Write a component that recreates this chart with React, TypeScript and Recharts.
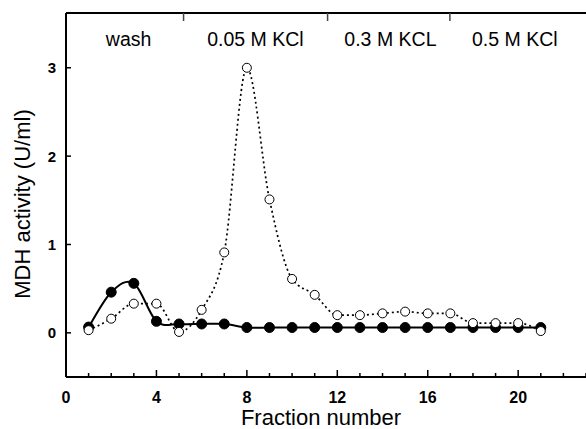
import { LineChart, Line, XAxis, YAxis, Label } from 'recharts';

// fraction numbers along the column run
const fractions = [1, 2, 3, 4, 5, 6, 7, 8, 9, 10, 11, 12, 13, 14, 15, 16, 17, 18, 19, 20, 21];

// open circles, dotted line
const openActivity = [0.03, 0.16, 0.33, 0.33, 0.01, 0.26, 0.91, 3.0, 1.51, 0.61, 0.43, 0.2, 0.2, 0.22, 0.24, 0.22, 0.22, 0.11, 0.11, 0.11, 0.02];

// filled circles, solid line
const filledActivity = [0.065, 0.46, 0.56, 0.13, 0.1, 0.1, 0.1, 0.06, 0.06, 0.06, 0.06, 0.06, 0.06, 0.06, 0.06, 0.06, 0.06, 0.06, 0.06, 0.06, 0.06];

// axis ticks
const xTicks = [0, 1, 2, 3, 4, 5, 6, 7, 8, 9, 10, 11, 12, 13, 14, 15, 16, 17, 18, 19, 20, 21, 22, 23];
const xLabelled = [0, 4, 8, 12, 16, 20];
const yTicks = [0, 1, 2, 3];

// elution steps written along the top
const stepNames = ['wash', '0.05 M KCl', '0.3 M KCL', '0.5 M KCl'];
const stepCentres = [2.77, 8.38, 14.35, 19.85];
const stepBounds = [5.2, 11.57, 16.98];

const data = fractions.map((f, i) => ({
  fraction: f,
  open: openActivity[i],
  filled: filledActivity[i],
}));

const FONT = '"Liberation Sans", Arial, sans-serif';

// catmull-rom style spline, so the solid curve overshoots a bit like the original
function catmull(context: any) {
  let pts: number[][] = [];
  return {
    areaStart() {},
    areaEnd() {},
    lineStart() {
      pts = [];
    },
    lineEnd() {
      if (!pts.length) return;
      context.moveTo(pts[0][0], pts[0][1]);
      for (let i = 0; i < pts.length - 1; i++) {
        const p0 = pts[i - 1] || pts[i];
        const p1 = pts[i];
        const p2 = pts[i + 1];
        const p3 = pts[i + 2] || p2;
        const k = 1 / 6;
        context.bezierCurveTo(
          p1[0] + (p2[0] - p0[0]) * k,
          p1[1] + (p2[1] - p0[1]) * k,
          p2[0] - (p3[0] - p1[0]) * k,
          p2[1] - (p3[1] - p1[1]) * k,
          p2[0],
          p2[1]
        );
      }
    },
    point(x: number, y: number) {
      pts.push([+x, +y]);
    },
  };
}

function BottomTick(props: any) {
  const { x, y, payload } = props;
  const major = xLabelled.includes(payload.value);
  return (
    <g>
      <line x1={x} x2={x} y1={y} y2={y - (major ? 7 : 4)} stroke="#000" strokeWidth={1.5} />
      {major && (
        <text x={x} y={y + 26} textAnchor="middle" fontFamily={FONT} fontWeight="bold" fontSize={16} fill="#000">
          {payload.value}
        </text>
      )}
    </g>
  );
}

function LeftTick(props: any) {
  const { x, y, payload } = props;
  return (
    <g>
      <line x1={x} x2={x + 5} y1={y} y2={y} stroke="#000" strokeWidth={1.5} />
      <text x={x - 10} y={y} dy="0.36em" textAnchor="end" fontFamily={FONT} fontWeight="bold" fontSize={15} fill="#000">
        {payload.value}
      </text>
    </g>
  );
}

function TopTick(props: any) {
  const { x, y, payload } = props;
  const idx = stepCentres.indexOf(payload.value);
  if (idx >= 0) {
    return (
      <text x={x} y={y + 33} textAnchor="middle" fontFamily={FONT} fontSize={19.5} fill="#000">
        {stepNames[idx]}
      </text>
    );
  }
  return <line x1={x} x2={x} y1={y} y2={y + 8} stroke="#444" strokeWidth={1.5} />;
}

export default function App() {
  return (
    <div style={{ position: 'absolute', left: 0, top: 0 }}>
      <LineChart width={586} height={429} data={data} margin={{ top: 0, right: 0, bottom: 0, left: 0 }}>
        <XAxis
          xAxisId="top"
          orientation="top"
          type="number"
          dataKey="fraction"
          domain={[0, 23]}
          ticks={[...stepCentres, ...stepBounds].sort((a, b) => a - b)}
          interval={0}
          height={13}
          tickSize={0}
          tickMargin={0}
          tickLine={false}
          tick={<TopTick />}
          axisLine={{ stroke: '#000', strokeWidth: 2 }}
        />
        <XAxis
          dataKey="fraction"
          type="number"
          domain={[0, 23]}
          ticks={xTicks}
          interval={0}
          height={52}
          tickSize={0}
          tickMargin={0}
          tickLine={false}
          tick={<BottomTick />}
          axisLine={{ stroke: '#000', strokeWidth: 2 }}
        >
          <Label
            content={() => (
              <text x={321} y={425} textAnchor="middle" fontFamily={FONT} fontSize={22} fill="#000">
                Fraction number
              </text>
            )}
          />
        </XAxis>
        <YAxis
          type="number"
          domain={[-0.5, 3.62]}
          ticks={yTicks}
          interval={0}
          width={66}
          tickSize={0}
          tickMargin={0}
          tickLine={false}
          tick={<LeftTick />}
          axisLine={{ stroke: '#000', strokeWidth: 2 }}
        >
          <Label
            content={() => (
              <text
                x={22.5}
                y={204}
                transform="rotate(-90 22.5 204)"
                dy="0.36em"
                textAnchor="middle"
                fontFamily={FONT}
                fontSize={22}
                fill="#000"
              >
                MDH activity (U/ml)
              </text>
            )}
          />
        </YAxis>
        <Line
          dataKey="filled"
          type={catmull as any}
          stroke="#000"
          strokeWidth={2}
          dot={{ r: 5, fill: '#000', stroke: '#000', strokeWidth: 1 }}
          activeDot={false}
          isAnimationActive={false}
        />
        <Line
          dataKey="open"
          type="monotone"
          stroke="#000"
          strokeWidth={1.7}
          strokeDasharray="2 3"
          dot={{ r: 4.5, fill: '#fff', stroke: '#000', strokeWidth: 1, strokeDasharray: 'none' }}
          activeDot={false}
          isAnimationActive={false}
        />
      </LineChart>
    </div>
  );
}
